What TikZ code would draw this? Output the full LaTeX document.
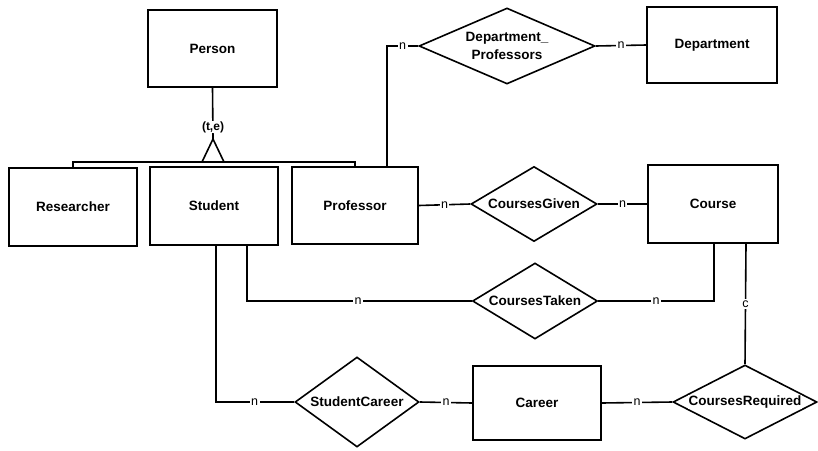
\documentclass[tikz,border=0pt]{standalone}
\usepackage{fontspec}
\setmainfont{Liberation Sans}
\usetikzlibrary{shapes.geometric}
\begin{document}
\begin{tikzpicture}[x=1pt,y=-1pt,
  every path/.style={line width=1.6pt,line join=miter},
  entity/.style={draw,rectangle,inner sep=0pt,font=\fontsize{13.5}{16}\selectfont\bfseries},
  rel/.style={draw,diamond,inner sep=0pt},
  reltext/.style={fill=white,inner sep=1pt,align=center,font=\fontsize{13.5}{18}\selectfont\bfseries},
  card/.style={fill=white,inner sep=1.5pt,font=\fontsize{12.5}{13}\selectfont}
]
\useasboundingbox (0,0) rectangle (818,450);

% entities
\node[entity,minimum width=129,minimum height=77] (person) at (212.5,48.5) {Person};
\node[entity,minimum width=128,minimum height=78] (res) at (73,207) {Researcher};
\node[entity,minimum width=128,minimum height=78] (stu) at (214,206) {Student};
\node[entity,minimum width=126,minimum height=77] (prof) at (355,205.5) {Professor};
\node[entity,minimum width=130,minimum height=76] (dept) at (712,45) {Department};
\node[entity,minimum width=130,minimum height=78] (course) at (713,204) {Course};
\node[entity,minimum width=128,minimum height=74] (career) at (537,403) {Career};

% relationships
\node[rel,minimum width=176,minimum height=76] (dp) at (507,46) {};
\node[rel,minimum width=126,minimum height=75] (cg) at (534,204) {};
\node[rel,minimum width=125,minimum height=76] (ct) at (535,301) {};
\node[rel,minimum width=124,minimum height=90] (sc) at (357,402) {};
\node[rel,minimum width=144,minimum height=74] (cr) at (745,402) {};

% generalization
\coordinate (isa) at (213,139);
\draw (person.south) -- (isa);
\node[card,font=\fontsize{12}{13}\selectfont\bfseries,inner sep=0.5pt] (te) at (213,127) {(t,e)};
\draw (isa) -- ++(-11,23) -- ++(22,0) -- cycle;
\draw (res.north) -- ++(0,-5) -| (prof.north);

% relationship connectors
\draw ([xshift=32]prof.north) |- (dp.west) node[card,pos=0.75] {n};
\draw (dp.east) -- (dept.west) node[card,midway] {n};
\draw (prof.east) -- (cg.west) node[card,midway] {n};
\draw (cg.east) -- (course.west) node[card,midway] {n};
\draw ([xshift=33]stu.south) |- (ct.west) node[card,pos=0.747] {n};
\draw (ct.east) -| ([xshift=1]course.south) node[card,pos=0.25] {n};
\draw ([xshift=33]course.south) -- (cr.north) node[card,midway] {c};
\draw ([xshift=2]stu.south) |- (sc.west) node[card,pos=0.747] {n};
\draw (sc.east) -- (career.west) node[card,midway] {n};
\draw (career.east) -- (cr.west) node[card,midway] {n};

% relationship names
\node[reltext] at (dp) {Department\_\\Professors};
\node[reltext] at (cg) {CoursesGiven};
\node[reltext] at (ct) {CoursesTaken};
\node[reltext] at (sc) {StudentCareer};
\node[reltext] at (cr) {CoursesRequired};
\end{tikzpicture}
\end{document}
